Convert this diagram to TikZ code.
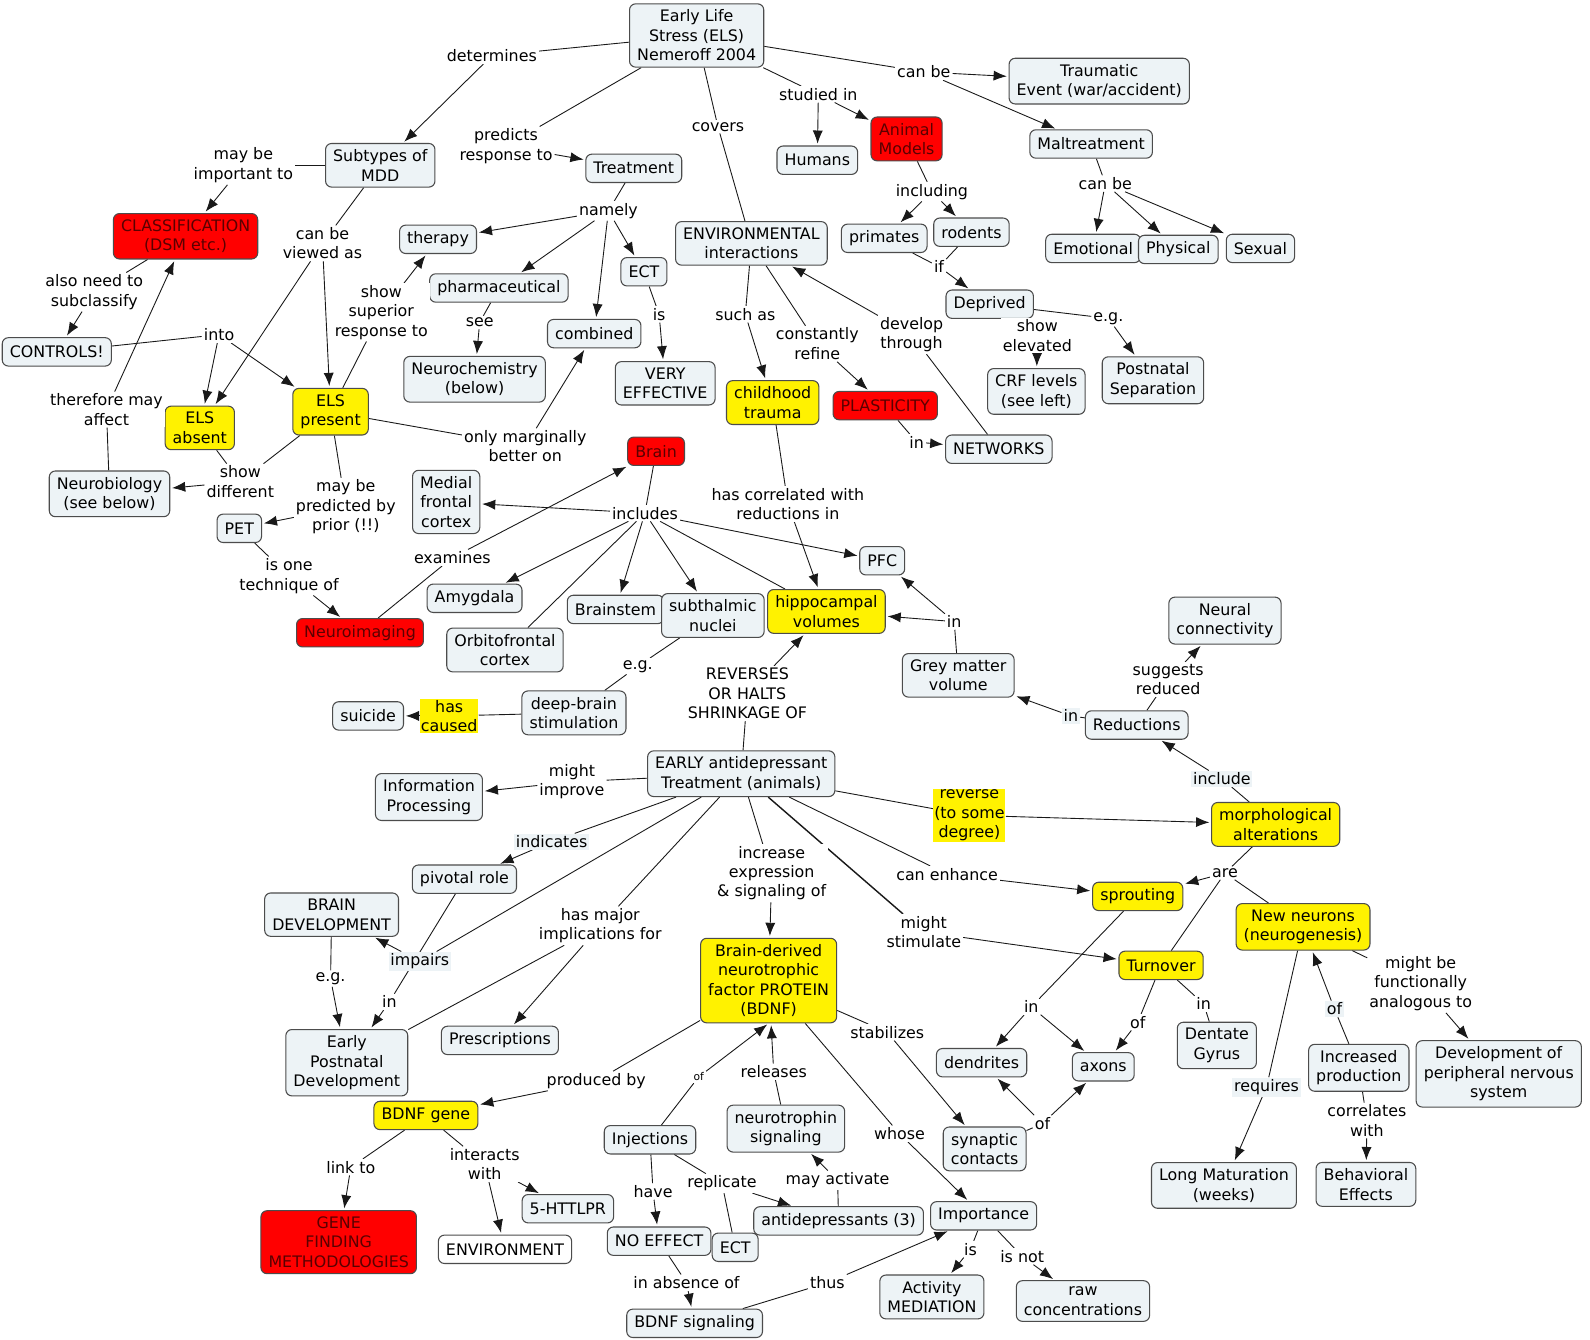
\documentclass[tikz,border=0pt]{standalone}
\usepackage{fontspec}
\setmainfont{DejaVu Sans}
\usetikzlibrary{arrows.meta}
\definecolor{boxblue}{RGB}{237,243,246}
\definecolor{darkred}{RGB}{90,0,0}
\pgfdeclarelayer{bg}
\pgfdeclarelayer{edges}
\pgfsetlayers{bg,edges,main}

\begin{document}
\begin{tikzpicture}[x=0.02cm,y=-0.02cm,
    font=\fontsize{8.9}{10.9}\selectfont,
    concept/.style={draw=black!70,fill=boxblue,rounded corners=0.12cm,line width=0.6pt,
      align=center,inner xsep=0.15cm,inner ysep=0.12cm,minimum height=0.56cm},
    yel/.style={concept,fill=yellow},
    redc/.style={concept,fill=red,text=darkred},
    lbl/.style={fill=white,inner sep=1pt,align=center},
    lblb/.style={lbl,fill=boxblue},
    lbly/.style={lbl,fill=yellow,inner sep=0.5pt},
    line/.style={draw=black!90,line width=0.5pt},
    arr/.style={line,-{Latex[length=2.6mm,width=2mm]},shorten >=1pt}]

    \begin{pgfonlayer}{bg}
      \fill[white] (0,0) rectangle (1568,1321);
    \end{pgfonlayer}
    \useasboundingbox (0,0) rectangle (1568,1321);

    \node[concept] (els) at (687,35) {Early Life\\Stress (ELS)\\Nemeroff 2004};
    \node[concept] (subtypes) at (375,163) {Subtypes of\\MDD};
    \node[concept] (treat) at (625,166) {Treatment};
    \node[concept] (trauma) at (1084,80) {Traumatic\\Event (war/accident)};
    \node[concept] (maltr) at (1076,142) {Maltreatment};
    \node[concept] (humans) at (806,158) {Humans};
    \node[redc] (animal) at (894,137) {Animal\\Models};
    \node[redc] (classif) at (183,233) {CLASSIFICATION\\(DSM etc.)};
    \node[concept] (therapy) at (432,236) {therapy};
    \node[concept] (pharma) at (492,284) {pharmaceutical};
    \node[concept] (ect) at (635,268) {ECT};
    \node[concept] (combined) at (586,329) {combined};
    \node[concept] (envint) at (741,240) {ENVIRONMENTAL\\interactions};
    \node[concept] (primates) at (872,235) {primates};
    \node[concept] (rodents) at (958,229) {rodents};
    \node[concept] (emot) at (1078,245) {Emotional};
    \node[concept] (phys) at (1162,246) {Physical};
    \node[concept] (sexual) at (1243,245) {Sexual};
    \node[concept] (deprived) at (976,300) {Deprived};
    \node[concept] (controls) at (56,347) {CONTROLS!};
    \node[concept] (neurochem) at (468,374) {Neurochemistry\\(below)};
    \node[concept] (veryeff) at (656,378) {VERY\\EFFECTIVE};
    \node[yel] (childtr) at (762,397) {childhood\\trauma};
    \node[redc] (plast) at (873,400) {PLASTICITY};
    \node[concept] (crf) at (1022,386) {CRF levels\\(see left)};
    \node[concept] (postsep) at (1137,375) {Postnatal\\Separation};
    \node[yel] (elsabs) at (197,422) {ELS\\absent};
    \node[yel] (elspres) at (326,406) {ELS\\present};
    \node[concept] (networks) at (985,443) {NETWORKS};
    \node[redc] (brain) at (647,445) {Brain};
    \node[concept] (neurobio) at (108,487) {Neurobiology\\(see below)};
    \node[concept] (mfc) at (440,495) {Medial\\frontal\\cortex};
    \node[concept] (pet) at (236,521) {PET};
    \node[concept] (pfc) at (870,553) {PFC};
    \node[concept] (amyg) at (468,590) {Amygdala};
    \node[concept] (bstem) at (607,601) {Brainstem};
    \node[concept] (subth) at (703,607) {subthalmic\\nuclei};
    \node[yel] (hippo) at (815,603) {hippocampal\\volumes};
    \node[redc] (neuroimg) at (355,624) {Neuroimaging};
    \node[concept] (ofc) at (498,641) {Orbitofrontal\\cortex};
    \node[concept] (neurconn) at (1208,612) {Neural\\connectivity};
    \node[concept] (grey) at (945,666) {Grey matter\\volume};
    \node[concept] (suicide) at (363,706) {suicide};
    \node[concept] (dbs) at (566,703) {deep-brain\\stimulation};
    \node[concept] (reduct) at (1121,715) {Reductions};
    \node[concept] (early) at (731,763) {EARLY antidepressant\\Treatment (animals)};
    \node[concept] (infoproc) at (423,786) {Information\\Processing};
    \node[yel] (morph) at (1258,813) {morphological\\alterations};
    \node[concept] (pivotal) at (458,867) {pivotal role};
    \node[yel] (sprout) at (1122,884) {sprouting};
    \node[concept] (braindev) at (327,902) {BRAIN\\DEVELOPMENT};
    \node[yel] (newneur) at (1285,914) {New neurons\\(neurogenesis)};
    \node[yel] (turnover) at (1145,952) {Turnover};
    \node[yel] (bdnf) at (758,967) {Brain-derived\\neurotrophic\\factor PROTEIN\\(BDNF)};
    \node[concept] (epd) at (342,1048) {Early\\Postnatal\\Development};
    \node[concept] (prescr) at (493,1026) {Prescriptions};
    \node[concept] (dendr) at (968,1048) {dendrites};
    \node[concept] (axons) at (1088,1052) {axons};
    \node[concept] (dentate) at (1200,1031) {Dentate\\Gyrus};
    \node[concept] (incprod) at (1340,1053) {Increased\\production};
    \node[concept] (pns) at (1478,1059) {Development of\\peripheral nervous\\system};
    \node[yel] (bdnfgene) at (420,1100) {BDNF gene};
    \node[concept] (inject) at (641,1124) {Injections};
    \node[concept] (ntsig) at (775,1113) {neurotrophin\\signaling};
    \node[concept] (synaptic) at (971,1133) {synaptic\\contacts};
    \node[concept] (importance) at (970,1199) {Importance};
    \node[concept] (longmat) at (1207,1169) {Long Maturation\\(weeks)};
    \node[concept] (behav) at (1347,1168) {Behavioral\\Effects};
    \node[redc] (genefind) at (334,1225) {GENE\\FINDING\\METHODOLOGIES};
    \node[concept,fill=white] (environ) at (498,1232) {ENVIRONMENT};
    \node[concept] (httlpr) at (560,1192) {5-HTTLPR};
    \node[concept] (antidep) at (827,1204) {antidepressants (3)};
    \node[concept] (noeff) at (650,1224) {NO EFFECT};
    \node[concept] (ect2) at (725,1230) {ECT};
    \node[concept] (activity) at (919,1279) {Activity\\MEDIATION};
    \node[concept] (rawconc) at (1068,1283) {raw\\concentrations};
    \node[concept] (bdnfsig) at (685,1305) {BDNF signaling};

    \node[lbl] (ldeterm) at (485,55) {determines};
    \node[lbl] (lpredicts) at (499,144) {predicts\\response to};
    \node[lbl] (lcovers) at (708,125) {covers};
    \node[lbl] (lstudied) at (807,93) {studied in};
    \node[lbl] (lcanbe) at (911,71) {can be};
    \node[lbl] (lmaybe) at (240,163) {may be\\important to};
    \node[lbl] (lviewed) at (318,240) {can be\\viewed as};
    \node[lbl] (lnamely) at (600,208) {namely};
    \node[lbl] (lincluding) at (919,189) {including};
    \node[lbl] (lcanbe2) at (1090,181) {can be};
    \node[lbl] (lsubclass) at (93,288) {also need to\\subclassify};
    \node[lbl] (linto) at (216,330) {into};
    \node[lbl] (lsuperior) at (376,308) {show\\superior\\response to};
    \node[lbl] (lsee) at (473,318) {see};
    \node[lbl] (lis) at (650,310) {is};
    \node[lbl] (lsuchas) at (735,310) {such as};
    \node[lbl] (lrefine) at (806,339) {constantly\\refine};
    \node[lbl] (ldevelop) at (899,330) {develop\\through};
    \node[lbl] (lif) at (926,263) {if};
    \node[lbl] (lelevated) at (1023,331) {show\\elevated};
    \node[lbl] (leg1) at (1093,314) {e.g.};
    \node[lbl] (laffect) at (105,404) {therefore may\\affect};
    \node[lbl] (lmarginal) at (518,440) {only marginally\\better on};
    \node[lbl] (lin1) at (904,436) {in};
    \node[lbl] (ldifferent) at (237,475) {show\\different};
    \node[lbl] (lpredicted) at (341,500) {may be\\predicted by\\prior (!!)};
    \node[lbl] (lincludes) at (636,506) {includes};
    \node[lbl] (lcorrel) at (777,497) {has correlated with\\reductions in};
    \node[lbl] (lexamines) at (446,550) {examines};
    \node[lbl] (ltechnique) at (285,568) {is one\\technique of};
    \node[lbl] (leg2) at (629,657) {e.g.};
    \node[lbl] (lin2) at (941,613) {in};
    \node[lbl] (lreverses) at (737,684) {REVERSES\\OR HALTS\\SHRINKAGE OF};
    \node[lbl] (lsuggests) at (1152,670) {suggests\\reduced};
    \node[lblb] (lin3) at (1056,706) {in};
    \node[lbly] (lcaused) at (443,706) {has\\caused};
    \node[lbl] (limprove) at (564,771) {might\\improve};
    \node[lblb] (linclude) at (1205,768) {include};
    \node[lbly] (lreverse) at (956,804) {reverse\\(to some\\degree)};
    \node[lblb] (lindicates) at (544,830) {indicates};
    \node[lbl] (lincrease) at (761,861) {increase\\expression\\\& signaling of};
    \node[lbl] (lenhance) at (934,862) {can enhance};
    \node[lbl] (lare) at (1208,861) {are};
    \node[lbl] (lmajor) at (592,913) {has major\\implications for};
    \node[lbl] (lstimulate) at (911,919) {might\\stimulate};
    \node[lblb] (limpairs) at (414,948) {impairs};
    \node[lbl] (leg3) at (326,965) {e.g.};
    \node[lbl] (lin4) at (384,988) {in};
    \node[lbl] (lanalog) at (1401,970) {might be\\functionally\\analogous to};
    \node[lbl] (lin5) at (1017,993) {in};
    \node[lbl] (lof1) at (1122,1008) {of};
    \node[lbl] (lin6) at (1187,990) {in};
    \node[lblb] (lof2) at (1316,995) {of};
    \node[lbl] (lstabil) at (875,1018) {stabilizes};
    \node[lbl] (lproduced) at (588,1066) {produced by};
    \node[lbl,font=\fontsize{6}{7}\selectfont] (lof3) at (689,1062) {of};
    \node[lbl] (lreleases) at (763,1057) {releases};
    \node[lblb] (lrequires) at (1249,1072) {requires};
    \node[lbl] (lof4) at (1028,1108) {of};
    \node[lbl] (lwhose) at (887,1118) {whose};
    \node[lbl] (lcorrwith) at (1348,1105) {correlates\\with};
    \node[lbl] (llink) at (346,1151) {link to};
    \node[lbl] (linteracts) at (478,1148) {interacts\\with};
    \node[lbl] (lhave) at (644,1175) {have};
    \node[lbl] (lreplicate) at (712,1167) {replicate};
    \node[lbl] (lactivate) at (826,1164) {may activate};
    \node[lbl] (lis2) at (957,1232) {is};
    \node[lbl] (lisnot) at (1008,1239) {is not};
    \node[lbl] (labsence) at (677,1265) {in absence of};
    \node[lbl] (lthus) at (816,1265) {thus};

    \begin{pgfonlayer}{edges}
    \draw[line] (els) -- (ldeterm);
    \draw[arr] (ldeterm) -- (subtypes);
    \draw[line] (els) -- (lpredicts);
    \draw[arr] (lpredicts) -- (treat);
    \draw[line] (els) -- (lcovers);
    \draw[line] (lcovers) -- (envint);
    \draw[line] (els) -- (lstudied);
    \draw[arr] (lstudied) -- (humans);
    \draw[arr] (lstudied) -- (animal);
    \draw[line] (els) -- (lcanbe);
    \draw[arr] (lcanbe) -- (trauma);
    \draw[arr] (lcanbe) -- (maltr);
    \draw[line] (subtypes) -- (lmaybe);
    \draw[arr] (lmaybe) -- (classif);
    \draw[line] (subtypes) -- (lviewed);
    \draw[arr] (lviewed) -- (elsabs);
    \draw[arr] (lviewed) -- (elspres);
    \draw[line] (treat) -- (lnamely);
    \draw[arr] (lnamely) -- (therapy);
    \draw[arr] (lnamely) -- (pharma);
    \draw[arr] (lnamely) -- (combined);
    \draw[arr] (lnamely) -- (ect);
    \draw[line] (animal) -- (lincluding);
    \draw[arr] (lincluding) -- (primates);
    \draw[arr] (lincluding) -- (rodents);
    \draw[line] (maltr) -- (lcanbe2);
    \draw[arr] (lcanbe2) -- (emot);
    \draw[arr] (lcanbe2) -- (phys);
    \draw[arr] (lcanbe2) -- (sexual);
    \draw[line] (classif) -- (lsubclass);
    \draw[arr] (lsubclass) -- (controls);
    \draw[line] (controls) -- (linto);
    \draw[arr] (linto) -- (elsabs);
    \draw[arr] (linto) -- (elspres);
    \draw[line] (elspres) -- (lsuperior);
    \draw[arr] (lsuperior) -- (therapy);
    \draw[line] (pharma) -- (lsee);
    \draw[arr] (lsee) -- (neurochem);
    \draw[line] (ect) -- (lis);
    \draw[arr] (lis) -- (veryeff);
    \draw[line] (envint) -- (lsuchas);
    \draw[arr] (lsuchas) -- (childtr);
    \draw[line] (envint) -- (lrefine);
    \draw[arr] (lrefine) -- (plast);
    \draw[line] (networks) -- (ldevelop);
    \draw[arr] (ldevelop) -- (envint);
    \draw[line] (primates) -- (lif);
    \draw[line] (rodents) -- (lif);
    \draw[arr] (lif) -- (deprived);
    \draw[arr] (lelevated) -- (crf);
    \draw[line] (deprived) -- (leg1);
    \draw[arr] (leg1) -- (postsep);
    \draw[line] (neurobio) -- (laffect);
    \draw[arr] (laffect) -- (classif);
    \draw[line] (elspres) -- (lmarginal);
    \draw[arr] (lmarginal) -- (combined);
    \draw[line] (plast) -- (lin1);
    \draw[arr] (lin1) -- (networks);
    \draw[line] (elsabs) -- (ldifferent);
    \draw[line] (elspres) -- (ldifferent);
    \draw[arr] (ldifferent) -- (neurobio);
    \draw[line] (elspres) -- (lpredicted);
    \draw[arr] (lpredicted) -- (pet);
    \draw[line] (brain) -- (lincludes);
    \draw[arr] (lincludes) -- (mfc);
    \draw[arr] (lincludes) -- (amyg);
    \draw[arr] (lincludes) -- (bstem);
    \draw[arr] (lincludes) -- (subth);
    \draw[arr] (lincludes) -- (pfc);
    \draw[line] (lincludes) -- (hippo);
    \draw[line] (lincludes) -- (ofc);
    \draw[line] (childtr) -- (lcorrel);
    \draw[arr] (lcorrel) -- (hippo);
    \draw[line] (neuroimg) -- (lexamines);
    \draw[arr] (lexamines) -- (brain);
    \draw[line] (pet) -- (ltechnique);
    \draw[arr] (ltechnique) -- (neuroimg);
    \draw[line] (subth) -- (leg2);
    \draw[line] (leg2) -- (dbs);
    \draw[line] (dbs) -- (lcaused);
    \draw[arr] (lcaused) -- (suicide);
    \draw[line] (grey) -- (lin2);
    \draw[arr] (lin2) -- (pfc);
    \draw[arr] (lin2) -- (hippo);
    \draw[line] (early) -- (lreverses);
    \draw[arr] (lreverses) -- (hippo);
    \draw[line] (reduct) -- (lsuggests);
    \draw[arr] (lsuggests) -- (neurconn);
    \draw[line] (reduct) -- (lin3);
    \draw[arr] (lin3) -- (grey);
    \draw[line] (early) -- (limprove);
    \draw[arr] (limprove) -- (infoproc);
    \draw[line] (morph) -- (linclude);
    \draw[arr] (linclude) -- (reduct);
    \draw[line] (early) -- (lreverse);
    \draw[arr] (lreverse) -- (morph);
    \draw[line] (early) -- (lindicates);
    \draw[arr] (lindicates) -- (pivotal);
    \draw[line] (early) -- (lincrease);
    \draw[arr] (lincrease) -- (bdnf);
    \draw[line] (early) -- (lenhance);
    \draw[arr] (lenhance) -- (sprout);
    \draw[line] (morph) -- (lare);
    \draw[arr] (lare) -- (sprout);
    \draw[line] (lare) -- (turnover);
    \draw[line] (lare) -- (newneur);
    \draw[line] (early) -- (lmajor);
    \draw[arr] (lmajor) -- (prescr);
    \draw[line] (lmajor) -- (epd);
    \draw[line,line width=0.8pt] (early) -- (lstimulate);
    \draw[arr] (lstimulate) -- (turnover);
    \draw[line] (early) -- (limpairs);
    \draw[arr] (limpairs) -- (braindev);
    \draw[line] (braindev) -- (leg3);
    \draw[arr] (leg3) -- (epd);
    \draw[line] (pivotal) -- (lin4);
    \draw[arr] (lin4) -- (epd);
    \draw[line] (newneur) -- (lanalog);
    \draw[arr] (lanalog) -- (pns);
    \draw[line] (sprout) -- (lin5);
    \draw[arr] (lin5) -- (dendr);
    \draw[arr] (lin5) -- (axons);
    \draw[line] (turnover) -- (lof1);
    \draw[arr] (lof1) -- (axons);
    \draw[line] (turnover) -- (lin6);
    \draw[line] (lin6) -- (dentate);
    \draw[line] (incprod) -- (lof2);
    \draw[arr] (lof2) -- (newneur);
    \draw[line] (bdnf) -- (lstabil);
    \draw[arr] (lstabil) -- (synaptic);
    \draw[line] (bdnf) -- (lproduced);
    \draw[arr] (lproduced) -- (bdnfgene);
    \draw[line] (inject) -- (lof3);
    \draw[arr] (lof3) -- (bdnf.south);
    \draw[line] (ntsig) -- (lreleases);
    \draw[arr] (lreleases) -- (bdnf);
    \draw[line] (newneur) -- (lrequires);
    \draw[arr] (lrequires) -- (longmat);
    \draw[line] (synaptic) -- (lof4);
    \draw[arr] (lof4) -- (dendr);
    \draw[arr] (lof4) -- (axons);
    \draw[line] (bdnf) -- (lwhose);
    \draw[arr] (lwhose) -- (importance);
    \draw[line] (incprod) -- (lcorrwith);
    \draw[arr] (lcorrwith) -- (behav);
    \draw[line] (bdnfgene) -- (llink);
    \draw[arr] (llink) -- (genefind);
    \draw[line] (bdnfgene) -- (linteracts);
    \draw[arr] (linteracts) -- (environ);
    \draw[arr] (linteracts) -- (httlpr);
    \draw[line] (inject) -- (lhave);
    \draw[arr] (lhave) -- (noeff);
    \draw[line] (inject) -- (lreplicate);
    \draw[line] (ect2) -- (lreplicate);
    \draw[arr] (lreplicate) -- (antidep);
    \draw[line] (antidep) -- (lactivate);
    \draw[arr] (lactivate) -- (ntsig);
    \draw[line] (noeff) -- (labsence);
    \draw[arr] (labsence) -- (bdnfsig);
    \draw[line] (bdnfsig) -- (lthus);
    \draw[arr] (lthus) -- (importance);
    \draw[line] (importance) -- (lis2);
    \draw[arr] (lis2) -- (activity);
    \draw[line] (importance) -- (lisnot);
    \draw[arr] (lisnot) -- (rawconc);
    \end{pgfonlayer}
\end{tikzpicture}
\end{document}
